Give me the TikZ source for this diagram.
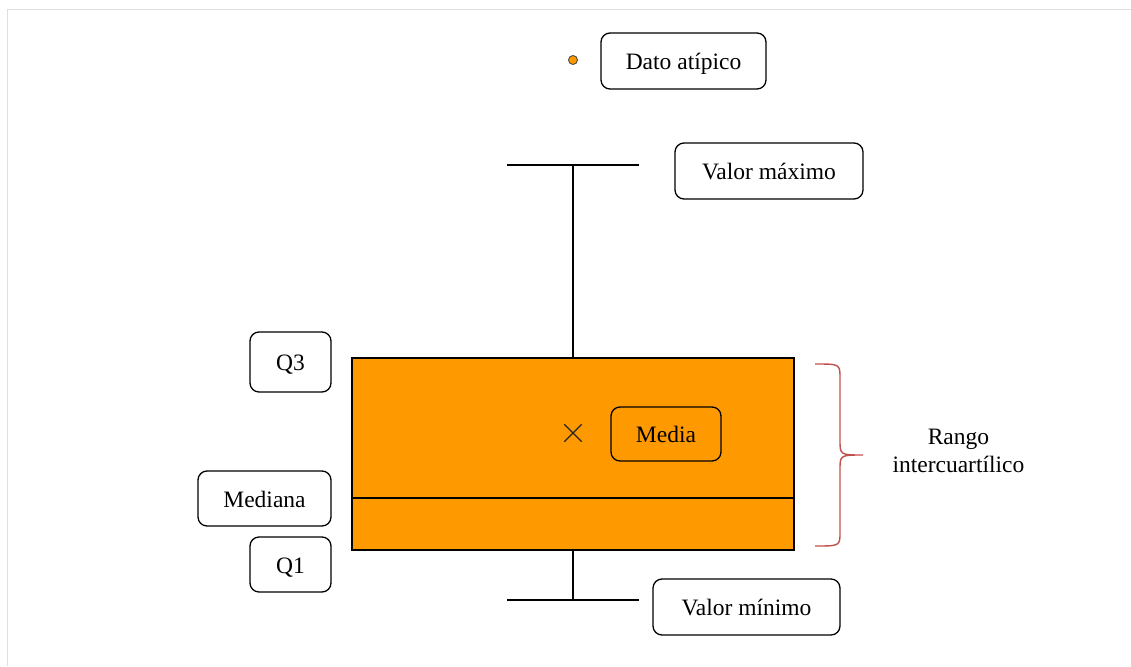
\documentclass[tikz,border=0pt]{standalone}
\usepackage{fontspec}
\setmainfont{Liberation Serif}
\usepackage{tikz}
\usetikzlibrary{positioning, calc, shapes.misc}
\definecolor{boxorange}{HTML}{FF9900}
\definecolor{bracered}{HTML}{C0504D}
\tikzstyle{label} = [rectangle, rounded corners=9pt, minimum height=56, text height=22, text depth=5, text centered, draw=black, line width=1.3pt, inner sep=0pt]
\tikzstyle{iqrbox} = [rectangle, draw=black, fill=boxorange, line width=1.3pt, inner sep=0pt]
\tikzstyle{whisker} = [line width=1.3pt, black]

\begin{document}
\begin{tikzpicture}[x=1pt, y=-1pt, every node/.style={font=\fontsize{23.5}{28}\selectfont}]
\useasboundingbox (0,0) rectangle (1131,666);
\draw [gray!25, line width=1pt] (7,666) -- (7,10) -- (1131,10);

% Box and whiskers
\node (box) [iqrbox, minimum width=442, minimum height=192] at (573,454) {};
\coordinate (medL) at (352,498);
\coordinate (medR) at (794,498);
\draw [whisker] (medL) -- (medR);
\coordinate (maxL) at (507,165);
\coordinate (maxR) at (639,165);
\coordinate (minL) at (507,600);
\coordinate (minR) at (639,600);
\draw [whisker] (maxL) -- (maxR);
\draw [whisker] (minL) -- (minR);
\draw [whisker] (box.north) -- (box.north |- maxL);
\draw [whisker] (box.south) -- (box.south |- minL);

% Outlier and mean
\node (outlier) [circle, draw=black!70, fill=boxorange, line width=0.9pt, minimum size=9, inner sep=0pt] at (573,60) {};
\node (mean) [cross out, draw=black!85, line width=1.3pt, minimum size=16, inner sep=0pt] at (573,433) {};

% Labels
\node (dato) [label, minimum width=165] at (683.5,61) {Dato atípico};
\node (vmax) [label, minimum width=188] at (769,171) {Valor máximo};
\node (vmin) [label, minimum width=187] at (746.5,607) {Valor mínimo};
\node (q3) [label, minimum width=81, minimum height=60] at (290.5,362) {Q3};
\node (mediana) [label, minimum width=133, minimum height=55] at (264.5,498.5) {Mediana};
\node (q1) [label, minimum width=81, minimum height=55] at (290.5,564.5) {Q1};
\node (media) [label, fill=boxorange, minimum width=110, minimum height=54] at (666,434) {Media};

% Brace
\coordinate (brTop) at (815,364);
\coordinate (brTip) at (863,455);
\coordinate (brBot) at (815,546);
\draw [bracered, line width=1.4pt] (brTop) .. controls (840,364) .. (840,378) -- (840,440) .. controls (840,455) .. (brTip) .. controls (840,455) .. (840,470) -- (840,532) .. controls (840,546) .. (brBot);
\node (iqr) [align=center, right=26 of brTip, yshift=4] {Rango\\intercuartílico};

\end{tikzpicture}
\end{document}
